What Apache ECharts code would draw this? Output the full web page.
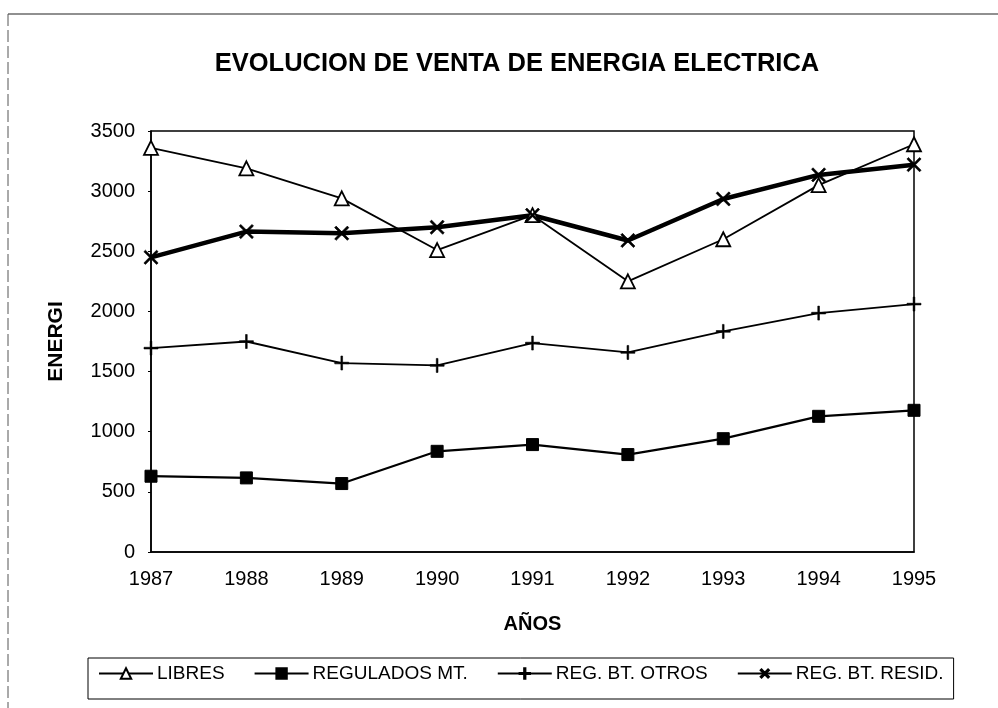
<!DOCTYPE html>
<html>
<head>
<meta charset="utf-8">
<script src="https://cdn.jsdelivr.net/npm/echarts@6/dist/echarts.min.js"></script>
<style>
html,body{margin:0;padding:0;background:#fff;}
#chart{width:998px;height:708px;}
</style>
</head>
<body>
<div id="chart"></div>
<script>
var years = ['1987','1988','1989','1990','1991','1992','1993','1994','1995'];
var libres = [3360, 3190, 2940, 2510, 2800, 2250, 2600, 3050, 3390];
var reguladosMT = [630, 616, 569, 837, 893, 810, 942, 1128, 1178];
var regBTOtros = [1695, 1750, 1571, 1551, 1737, 1659, 1834, 1986, 2061];
var regBTResid = [2450, 2664, 2650, 2700, 2800, 2590, 2935, 3135, 3220];
var yTicks = [0, 500, 1000, 1500, 2000, 2500, 3000, 3500];

var FONT = 'Arial, "Liberation Sans", sans-serif';
var plusPath = 'path://M4.4,0H5.6V4.4H10V5.6H5.6V10H4.4V5.6H0V4.4H4.4Z';

var chart = echarts.init(document.getElementById('chart'), null, {renderer: 'canvas'});
chart.setOption({
  backgroundColor: '#fff',
  animation: false,
  title: {
    text: 'EVOLUCION DE VENTA DE ENERGIA ELECTRICA',
    left: 512, textAlign: 'center', top: 46,
    textStyle: {fontFamily: FONT, fontSize: 25.5, fontWeight: 'bold', color: '#000'}
  },
  grid: {
    left: 151, right: 84, top: 131, bottom: 156,
    show: true, borderColor: '#000', borderWidth: 1.5, backgroundColor: 'transparent'
  },
  legend: {
    left: 88, top: 658, width: 866,
    borderColor: '#000', borderWidth: 1,
    padding: [6, 10, 16, 10],
    itemGap: 29, itemWidth: 54, itemHeight: 13,
    textStyle: {fontFamily: FONT, fontSize: 19, color: '#000', padding: [0, 0, 0, -1]},
    data: ['LIBRES', 'REGULADOS MT.', 'REG. BT. OTROS', 'REG. BT. RESID.']
  },
  xAxis: {
    type: 'category', data: years, boundaryGap: false,
    name: 'AÑOS', nameLocation: 'middle', nameGap: 62,
    nameTextStyle: {fontFamily: FONT, fontSize: 20, fontWeight: 'bold', color: '#000'},
    axisLine: {lineStyle: {color: '#000', width: 1.5}},
    axisTick: {show: false},
    axisLabel: {fontFamily: FONT, fontSize: 20, color: '#000', margin: 17},
    splitLine: {show: false}
  },
  yAxis: {
    type: 'value', min: yTicks[0], max: yTicks[yTicks.length - 1], interval: 500,
    name: 'ENERGI', nameLocation: 'middle', nameGap: 84, nameRotate: 90,
    nameTextStyle: {fontFamily: FONT, fontSize: 21, fontWeight: 'bold', color: '#000'},
    axisLine: {show: true, lineStyle: {color: '#000', width: 1.5}},
    axisTick: {show: true, length: 3, lineStyle: {color: '#000'}},
    axisLabel: {fontFamily: FONT, fontSize: 20, color: '#000', margin: 16,
      padding: [0, 0, 8, 0],
      formatter: function (v) { return String(v); }},
    splitLine: {show: false}
  },
  series: [
    {
      name: 'LIBRES', type: 'line', data: libres,
      symbol: 'triangle', symbolSize: 14, showAllSymbol: true,
      lineStyle: {color: '#000', width: 1.8},
      itemStyle: {color: '#fff', borderColor: '#000', borderWidth: 1.8},
      z: 3
    },
    {
      name: 'REGULADOS MT.', type: 'line', data: reguladosMT,
      symbol: 'rect', symbolSize: 12, showAllSymbol: true,
      lineStyle: {color: '#000', width: 2.2},
      itemStyle: {color: '#000', borderColor: '#000', borderWidth: 1}
    },
    {
      name: 'REG. BT. OTROS', type: 'line', data: regBTOtros,
      symbol: plusPath, symbolSize: 14, showAllSymbol: true,
      lineStyle: {color: '#000', width: 1.8},
      itemStyle: {color: '#000', borderColor: '#000', borderWidth: 0.6}
    },
    {
      name: 'REG. BT. RESID.', type: 'line', data: regBTResid,
      symbol: plusPath, symbolRotate: 45, symbolSize: 18, showAllSymbol: true,
      lineStyle: {color: '#000', width: 4.5},
      itemStyle: {color: '#000', borderColor: '#000', borderWidth: 0.6}
    }
  ],
  graphic: [
    {type: 'line', shape: {x1: 8, y1: 14, x2: 998, y2: 14}, style: {stroke: '#222', lineWidth: 1.2}, silent: true},
    {type: 'line', shape: {x1: 8, y1: 14, x2: 8, y2: 708}, style: {stroke: '#555', lineWidth: 1, lineDash: [12, 4]}, silent: true}
  ]
});
</script>
</body>
</html>
